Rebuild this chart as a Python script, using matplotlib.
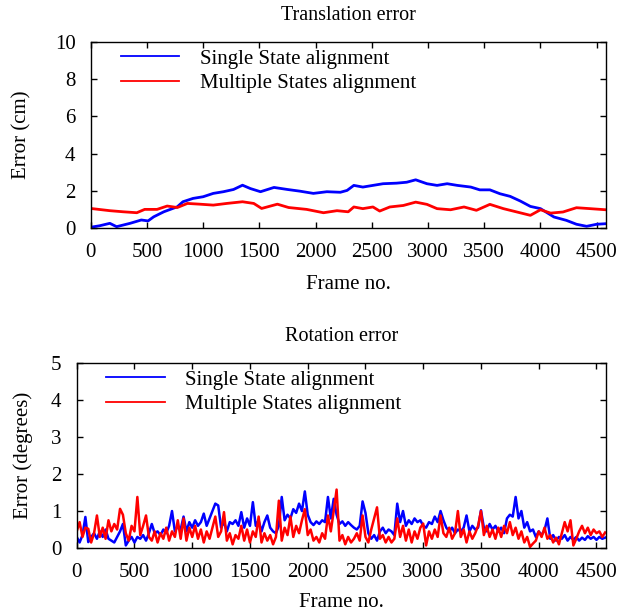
import numpy as np
import matplotlib
matplotlib.use("Agg")
import matplotlib.pyplot as plt

plt.rcParams["font.family"] = ["Liberation Serif", "DejaVu Serif"]

# translation error (cm)
trans_single_frames = [0, 80, 170, 230, 350, 450, 510, 560, 650, 770, 820, 910, 1000, 1090,
                       1180, 1270, 1350, 1420, 1510, 1630, 1750, 1860, 1980, 2100, 2220, 2280,
                       2340, 2420, 2510, 2600, 2720, 2810, 2890, 2990, 3080, 3170, 3260, 3380,
                       3460, 3550, 3640, 3730, 3820, 3910, 4000, 4120, 4230, 4320, 4410, 4500, 4580]
trans_single = [0.04, 0.12, 0.25, 0.07, 0.25, 0.43, 0.38, 0.60, 0.87, 1.14, 1.41, 1.59, 1.68, 1.86,
                1.95, 2.07, 2.30, 2.12, 1.95, 2.18, 2.07, 1.98, 1.86, 1.95, 1.92, 2.02,
                2.29, 2.20, 2.29, 2.38, 2.41, 2.46, 2.59, 2.38, 2.29, 2.38, 2.29, 2.20,
                2.05, 2.05, 1.84, 1.70, 1.45, 1.16, 1.04, 0.59, 0.41, 0.20, 0.09, 0.20, 0.23]

trans_multi_frames = [0, 170, 290, 410, 480, 590, 680, 770, 860, 970, 1090, 1210, 1350, 1450,
                      1520, 1660, 1760, 1920, 2070, 2190, 2290, 2340, 2420, 2510, 2570, 2660,
                      2780, 2890, 2990, 3080, 3200, 3320, 3430, 3550, 3670, 3790, 3910, 4000,
                      4090, 4200, 4320, 4440, 4580]
trans_multi = [1.05, 0.93, 0.87, 0.82, 1.00, 1.00, 1.18, 1.10, 1.32, 1.28, 1.23, 1.32, 1.41, 1.32,
               1.05, 1.28, 1.10, 1.00, 0.82, 0.93, 0.87, 1.13, 1.04, 1.13, 0.91, 1.13,
               1.21, 1.39, 1.27, 1.04, 0.98, 1.13, 0.95, 1.27, 1.04, 0.86, 0.68, 0.98,
               0.80, 0.86, 1.09, 1.04, 0.98]

# rotation error (degrees), one reading every 25 frames
rot_single = [0.30, 0.15, 0.35, 0.84, 0.16, 0.30, 0.40, 0.25, 0.45, 0.30, 0.50, 0.25, 0.20, 0.15,
              0.30, 0.45, 0.65, 0.07, 0.20, 0.30, 0.15, 0.30, 0.25, 0.35, 0.20, 0.40, 0.65, 0.40,
              0.45, 0.35, 0.50, 0.40, 0.60, 1.00, 0.45, 0.60, 0.50, 0.85, 0.45, 0.70, 0.55, 0.75,
              0.60, 0.70, 0.93, 0.60, 0.80, 1.00, 1.20, 1.15, 0.55, 0.70, 0.45, 0.70, 0.65, 0.75,
              0.60, 0.97, 0.55, 0.80, 0.60, 1.24, 0.60, 0.75, 0.45, 0.70, 0.88, 0.55, 0.45, 0.40,
              0.60, 1.38, 0.75, 0.90, 0.80, 1.05, 0.95, 1.20, 1.00, 1.53, 0.90, 0.70, 0.62, 0.72,
              0.65, 0.75, 0.70, 1.38, 0.80, 1.33, 0.90, 0.65, 0.72, 0.60, 0.70, 0.62, 0.55, 0.50,
              0.60, 1.26, 0.95, 0.40, 0.25, 0.35, 0.20, 0.45, 0.55, 0.40, 0.50, 0.45, 0.35, 1.20,
              0.70, 1.00, 0.60, 0.75, 0.65, 0.80, 0.70, 0.75, 0.60, 0.55, 0.70, 0.65, 0.85, 0.70,
              1.00, 0.75, 0.55, 0.45, 0.55, 0.40, 0.50, 0.45, 0.55, 0.88, 0.45, 0.60, 0.50, 0.55,
              1.02, 0.55, 0.45, 0.65, 0.50, 0.60, 0.45, 0.55, 0.40, 0.80, 0.90, 0.85, 1.38, 0.80,
              1.00, 0.55, 0.70, 0.45, 0.50, 0.30, 0.45, 0.35, 0.48, 0.80, 0.25, 0.35, 0.20, 0.30,
              0.25, 0.35, 0.20, 0.30, 0.22, 0.30, 0.20, 0.28, 0.22, 0.32, 0.25, 0.30, 0.22, 0.30,
              0.25, 0.28]
rot_multi = [0.45, 0.70, 0.30, 0.55, 0.52, 0.15, 0.40, 0.88, 0.30, 0.55, 0.25, 0.75, 0.45, 0.65,
             0.50, 1.06, 0.90, 0.40, 0.20, 0.60, 0.45, 1.38, 0.35, 0.60, 0.88, 0.30, 0.20, 0.45,
             0.15, 0.40, 0.25, 0.55, 0.20, 0.45, 0.30, 0.75, 0.25, 0.80, 0.20, 0.55, 0.30, 0.60,
             0.25, 0.50, 0.15, 0.45, 0.25, 0.55, 0.85, 0.30, 0.45, 0.97, 0.20, 0.40, 0.10, 0.35,
             0.25, 0.60, 0.20, 0.50, 0.15, 0.45, 0.30, 0.85, 0.15, 0.40, 0.20, 0.35, 0.10, 0.30,
             1.28, 0.20, 0.55, 0.35, 0.85, 0.30, 0.60, 0.40, 0.75, 1.05, 0.35, 0.50, 0.20, 0.30,
             0.15, 0.40, 0.25, 0.88, 0.45, 1.00, 1.58, 0.20, 0.35, 0.10, 0.30, 0.15, 0.25, 0.40,
             0.20, 0.88, 0.30, 0.15, 0.50, 0.80, 1.10, 0.25, 0.35, 0.15, 0.30, 0.15, 0.25, 0.80,
             0.30, 0.60, 0.20, 0.50, 0.15, 0.45, 0.25, 0.55, 0.66, 0.07, 0.45, 0.25, 0.50, 0.30,
             0.88, 0.40, 0.30, 0.55, 0.25, 0.40, 1.00, 0.30, 0.50, 0.15, 0.45, 0.25, 0.40, 0.60,
             1.00, 0.35, 0.60, 0.30, 0.50, 0.25, 0.55, 0.30, 0.60, 0.40, 0.70, 0.35, 0.55, 0.25,
             0.45, 0.15, 0.30, 0.03, 0.12, 0.20, 0.45, 0.30, 0.55, 0.25, 0.35, 0.15, 0.28, 0.10,
             0.40, 0.70, 0.45, 0.75, 0.07, 0.25, 0.45, 0.60, 0.40, 0.55, 0.35, 0.50, 0.40, 0.45,
             0.30, 0.42]
rot_step = 25

labels = ["Single State alignment", "Multiple States alignment"]
fs = 15

fig = plt.figure(figsize=(6.33, 6.15), dpi=100)
ax1 = fig.add_axes([0.1433, 0.6293, 0.8136, 0.3024])
ax2 = fig.add_axes([0.1212, 0.1089, 0.8357, 0.3008])

ax1.plot(trans_single_frames, trans_single, color="#0000ff", lw=2.0, label=labels[0])
ax1.plot(trans_multi_frames, trans_multi, color="#ff0000", lw=2.0, label=labels[1])
ax1.set_ylim(0, 10)
ax1.set_yticks(range(0, 11, 2))

ax2.plot(np.arange(len(rot_single)) * rot_step, rot_single, color="#0000ff", lw=1.8, label=labels[0])
ax2.plot(np.arange(len(rot_multi)) * rot_step, rot_multi, color="#ff0000", lw=1.8, label=labels[1])
ax2.set_ylim(0, 5)
ax2.set_yticks(range(0, 6))

for ax, title, ylab, ylx, xly, lx in [
        (ax1, "Translation error", "Error (cm)", -0.133, -0.306, 0.05),
        (ax2, "Rotation error", "Error (degrees)", -0.1015, -0.297, 0.048)]:
    ax.set_xlim(0, 4580)
    ax.set_xticks(range(0, 4501, 500))
    ax.tick_params(direction="in", length=4, width=1, top=True, right=True,
                   labelsize=fs, pad=11)
    for s in ax.spines.values():
        s.set_linewidth(1.0)
    ax.text(0.5, 1.143, title, transform=ax.transAxes, ha="center", va="center", fontsize=14.5)
    ax.set_xlabel("Frame no.", fontsize=fs, va="center")
    ax.xaxis.set_label_coords(0.5, xly)
    ax.set_ylabel(ylab, fontsize=fs, va="center")
    ax.yaxis.set_label_coords(ylx, 0.5)
    leg = ax.legend(loc="upper left", bbox_to_anchor=(lx, 0.985), frameon=False, fontsize=fs,
                    handlelength=2.8, handletextpad=1.0, labelspacing=0.25, borderpad=0.2,
                    borderaxespad=0)
    for h in leg.get_lines():
        h.set_linewidth(1.3)

fig.savefig("out.png", dpi=100)
